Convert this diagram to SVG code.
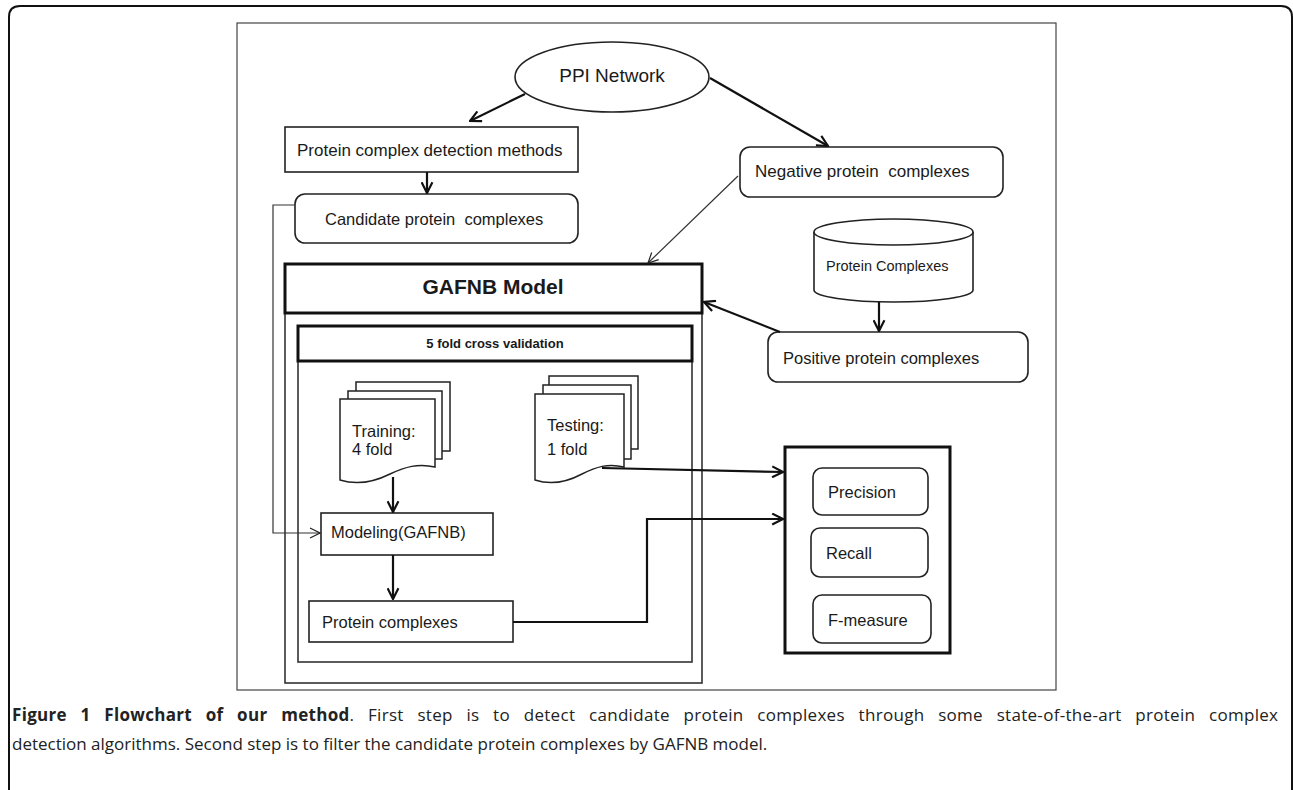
<svg xmlns="http://www.w3.org/2000/svg" width="1293" height="790" viewBox="0 0 1293 790">
  <defs>
    <marker id="arr" viewBox="0 0 12 12" refX="11" refY="6" markerWidth="13" markerHeight="13" markerUnits="userSpaceOnUse" orient="auto">
      <path d="M1,1 L11,6 L1,11" fill="none" stroke="#111" stroke-width="2"/>
    </marker>
    <marker id="arrThin" viewBox="0 0 12 12" refX="11" refY="6" markerWidth="12" markerHeight="12" markerUnits="userSpaceOnUse" orient="auto">
      <path d="M1,1 L11,6 L1,11" fill="none" stroke="#222" stroke-width="1.2"/>
    </marker>
    <style>
      .lbl { font-family: "Liberation Sans", Arial, sans-serif; fill: #1a1a1a; }
      .box { fill: #fff; stroke: #222; stroke-width: 1.6; }
      .heavy { fill: #fff; stroke: #111; stroke-width: 3; }
      .doc { fill: #fff; stroke: #222; stroke-width: 1.5; }
      .edge { fill: none; stroke: #111; stroke-width: 2.2; marker-end: url(#arr); }
      .thin { fill: none; stroke: #333; stroke-width: 1.2; marker-end: url(#arrThin); }
      .cap { font-family: "Open Sans", "Liberation Sans", sans-serif; font-size: 17px; fill: #222; }
    </style>
  </defs>

  <rect width="1293" height="790" fill="#fff"/>

  <!-- page frame -->
  <path d="M9,790 V17 Q9,6 20,6 H1281 Q1292,6 1292,17 V790" fill="none" stroke="#111" stroke-width="2"/>

  <!-- figure border -->
  <rect x="237" y="23" width="819" height="667" fill="none" stroke="#444" stroke-width="1.2"/>

  <!-- GAFNB model container -->
  <g id="gafnb">
    <rect x="285" y="264" width="417" height="419" fill="none" stroke="#333" stroke-width="1.6"/>
    <rect class="heavy" x="285" y="264" width="417" height="49"/>
    <text class="lbl" x="493" y="294" font-size="21" font-weight="bold" text-anchor="middle">GAFNB Model</text>
  </g>

  <g id="cross-validation">
    <rect x="298" y="326" width="394" height="336" fill="none" stroke="#333" stroke-width="1.6"/>
    <rect class="heavy" x="298" y="326" width="394" height="35"/>
    <text class="lbl" x="495" y="348" font-size="13" font-weight="bold" text-anchor="middle">5 fold cross validation</text>
  </g>

  <g id="ppi">
    <ellipse cx="612" cy="77" rx="97" ry="35" class="box"/>
    <text class="lbl" x="612" y="82" font-size="19" text-anchor="middle">PPI Network</text>
  </g>

  <g id="detection">
    <rect class="box" x="285" y="127" width="293" height="45"/>
    <text class="lbl" x="297" y="156" font-size="17">Protein complex detection methods</text>
  </g>

  <g id="candidate">
    <rect class="box" x="295" y="194" width="283" height="49" rx="10"/>
    <text class="lbl" x="325" y="225" font-size="16.5" xml:space="preserve">Candidate protein  complexes</text>
  </g>

  <g id="negative">
    <rect class="box" x="740" y="147" width="263" height="50" rx="10"/>
    <text class="lbl" x="755" y="177" font-size="17" xml:space="preserve">Negative protein  complexes</text>
  </g>

  <g id="db">
    <path d="M814,232 V290 A79.5,12 0 0 0 973,290 V232" class="box"/>
    <ellipse cx="893.5" cy="232" rx="79.5" ry="13" class="box"/>
    <text class="lbl" x="826" y="271" font-size="14.5">Protein Complexes</text>
  </g>

  <g id="positive">
    <rect class="box" x="768" y="332" width="260" height="50" rx="10"/>
    <text class="lbl" x="783" y="364" font-size="16.5">Positive protein complexes</text>
  </g>

  <g id="training">
    <rect class="doc" x="356" y="382" width="94" height="69"/>
    <rect class="doc" x="348" y="391" width="94" height="68"/>
    <path class="doc" d="M340,399 H435 V467 C418,463 405,467 390,474 C374,482 356,485 340,480 Z"/>
    <text class="lbl" x="352" y="437" font-size="16.5">Training:</text>
    <text class="lbl" x="352" y="455" font-size="16.5">4 fold</text>
  </g>

  <g id="testing">
    <rect class="doc" x="549" y="376" width="89" height="73"/>
    <rect class="doc" x="543" y="385" width="88" height="74"/>
    <path class="doc" d="M535,394 H624 V467 C608,463 596,467 582,474 C567,482 550,485 535,480 Z"/>
    <text class="lbl" x="547" y="431" font-size="16.5">Testing:</text>
    <text class="lbl" x="547" y="455" font-size="16.5">1 fold</text>
  </g>

  <g id="modeling">
    <rect class="box" x="321" y="513" width="172" height="42"/>
    <text class="lbl" x="331" y="538" font-size="16.5">Modeling(GAFNB)</text>
  </g>

  <g id="complexes">
    <rect class="box" x="309" y="601" width="204" height="41"/>
    <text class="lbl" x="322" y="628" font-size="16.5">Protein complexes</text>
  </g>

  <g id="metrics">
    <rect class="heavy" x="785" y="447" width="165" height="206"/>
    <rect class="box" x="813" y="468" width="115" height="47" rx="9"/>
    <text class="lbl" x="828" y="498" font-size="16.5">Precision</text>
    <rect class="box" x="811" y="528" width="117" height="49" rx="9"/>
    <text class="lbl" x="826" y="559" font-size="16.5">Recall</text>
    <rect class="box" x="813" y="595" width="118" height="48" rx="9"/>
    <text class="lbl" x="828" y="626" font-size="16.5">F-measure</text>
  </g>

  <!-- connectors -->
  <g id="connectors">
    <path class="edge" d="M525,94 L470,121"/>
    <path class="edge" d="M710,78 L828,146"/>
    <path class="edge" d="M427,172 L427,193"/>
    <path class="thin" d="M295,205 H273 V533 H320"/>
    <path class="thin" d="M738,176 L648,263"/>
    <path class="edge" d="M879,302 L879,331"/>
    <path class="edge" d="M780,332 L704,302"/>
    <path class="edge" d="M393,477 V512"/>
    <path class="edge" d="M393,555 V599"/>
    <path class="edge" d="M602,468 L783,472"/>
    <path class="edge" d="M513,622 H647 V519 H783"/>
  </g>

  <!-- caption -->
  <text class="cap" x="12" y="721" word-spacing="9" textLength="1266" lengthAdjust="spacing"><tspan font-weight="bold">Figure 1 Flowchart of our method</tspan>. First step is to detect candidate protein complexes through some state-of-the-art protein complex</text>
  <text class="cap" x="12" y="750">detection algorithms. Second step is to filter the candidate protein complexes by GAFNB model.</text>
</svg>
